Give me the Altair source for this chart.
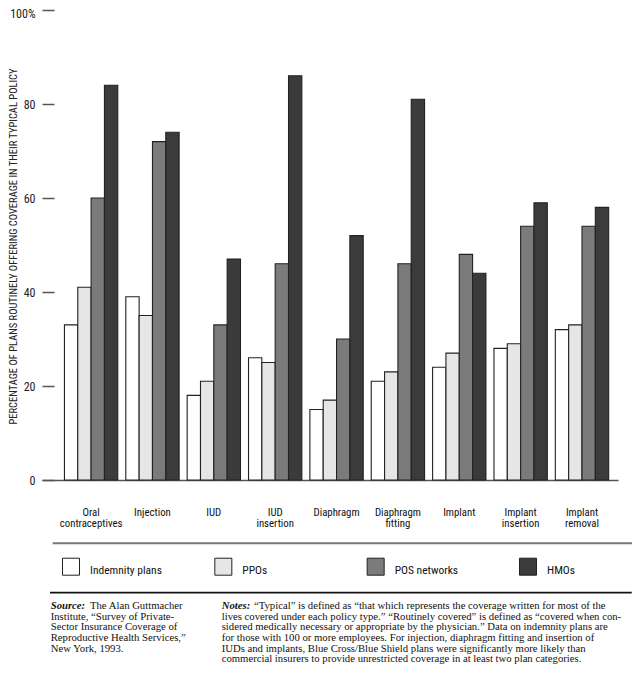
import altair as alt
import pandas as pd

SANS = "Roboto Condensed, Liberation Sans Narrow, Roboto, sans-serif"
SERIF = "Liberation Serif, serif"

methods = ["Oral\ncontraceptives", "Injection", "IUD", "IUD\ninsertion", "Diaphragm",
           "Diaphragm\nfitting", "Implant", "Implant\ninsertion", "Implant\nremoval"]
plans = ["Indemnity plans", "PPOs", "POS networks", "HMOs"]
indemnity = [33, 39, 18, 26, 15, 21, 24, 28, 32]
ppos = [41, 35, 21, 25, 17, 23, 27, 29, 33]
pos_networks = [60, 72, 33, 46, 30, 46, 48, 54, 54]
hmos = [84, 74, 47, 86, 52, 81, 44, 59, 58]
colors = ["#ffffff", "#e6e6e6", "#7b7b7b", "#3b3b3b"]
y_ticks = [0, 20, 40, 60, 80, 100]
y_title = "PERCENTAGE OF PLANS ROUTINELY OFFERING COVERAGE IN THEIR TYPICAL POLICY"

source_head = "Source:"
source_first = "The Alan Guttmacher"
source_rest = ["Institute, \u201cSurvey of Private-",
               "Sector Insurance Coverage of",
               "Reproductive Health Services,\u201d",
               "New York, 1993."]
notes_head = "Notes:"
notes_first = "\u201cTypical\u201d is defined as \u201cthat which represents the coverage written for most of the"
notes_rest = ["lives covered under each policy type.\u201d \u201cRoutinely covered\u201d is defined as \u201ccovered when con-",
              "sidered medically necessary or appropriate by the physician.\u201d Data on indemnity plans are",
              "for those with 100 or more employees. For injection, diaphragm fitting and insertion of",
              "IUDs and implants, Blue Cross/Blue Shield plans were significantly more likely than",
              "commercial insurers to provide unrestricted coverage in at least two plan categories."]

rows = []
for p, vals in zip(plans, [indemnity, ppos, pos_networks, hmos]):
    for m, v in zip(methods, vals):
        rows.append({"method": m, "plan": p, "value": v})
df = pd.DataFrame(rows)
leg_df = pd.DataFrame({"plan": plans})
one = pd.DataFrame({"k": [0]})

color_enc = alt.Color("plan:N", sort=plans, scale=alt.Scale(domain=plans, range=colors), legend=None)

bars = alt.Chart(df).mark_bar(stroke="#222222", strokeWidth=1.1).encode(
    x=alt.X("method:N", sort=methods,
            scale=alt.Scale(paddingInner=0.131, paddingOuter=0.259, align=0.706),
            axis=alt.Axis(title=None, labelAngle=0, labelExpr="split(datum.label, '\\n')",
                          ticks=False, domainColor="#555555", domainWidth=1.5,
                          labelPadding=26, labelFont=SANS, labelFontSize=10.8,
                          labelColor="#111111", labelLineHeight=11.5, labelBaseline="top",
                          labelOverlap=False)),
    xOffset=alt.XOffset("plan:N", sort=plans, scale=alt.Scale(paddingInner=0, paddingOuter=0)),
    y=alt.Y("value:Q", scale=alt.Scale(domain=[0, 100], nice=False),
            axis=alt.Axis(values=y_ticks, labelExpr="datum.value == 100 ? '100%' : datum.label",
                          grid=False, domain=False, tickSize=12, tickColor="#555555",
                          tickWidth=1.5, offset=-12, labelPadding=7, labelFont=SANS,
                          labelFontSize=12, labelColor="#222222", labelLineHeight=8,
                          labelBaseline={"condition": {"test": "datum.value === 100", "value": "line-top"},
                                         "value": "middle"},
                          title=y_title, titleFont=SANS, titleFontSize=10.5, titleFontWeight="normal",
                          titleColor="#222222", titleX=-38, titleY=236, titleAngle=270,
                          titleBaseline="alphabetic")),
    color=color_enc,
)

leg_x = alt.X("plan:N", sort=plans,
              scale=alt.Scale(type="point", domain=plans, range=[29, 486], padding=0),
              axis=None)
leg_sq = alt.Chart(leg_df).mark_square(size=289, filled=True, opacity=1, stroke="#222222",
                                       strokeWidth=1).encode(
    x=leg_x, y=alt.value(556.7), color=color_enc)
leg_txt = alt.Chart(leg_df).mark_text(align="left", baseline="alphabetic", dx=19, font=SANS,
                                      fontSize=11.5, color="#111111").encode(
    x=leg_x, y=alt.value(564), text="plan:N")

sep1 = alt.Chart(one).mark_rule(color="#777777", strokeWidth=2).encode(
    x=alt.value(10.7), x2=alt.value(590), y=alt.value(533.3))
sep2 = alt.Chart(one).mark_rule(color="#111111", strokeWidth=1.8).encode(
    x=alt.value(8), x2=alt.value(589.7), y=alt.value(582.7))

FS = 10.7
LH = 10.7
Y0 = 599
src_h = alt.Chart(one).mark_text(text=source_head, align="left", baseline="alphabetic", font=SERIF,
                                 fontSize=FS, fontStyle="italic", fontWeight="bold",
                                 color="#111111").encode(x=alt.value(8.7), y=alt.value(Y0))
src_1 = alt.Chart(one).mark_text(text=source_first, align="left", baseline="alphabetic", font=SERIF,
                                 fontSize=FS, color="#111111").encode(x=alt.value(48), y=alt.value(Y0))
src_r = alt.Chart(one).mark_text(text=source_rest, align="left", baseline="alphabetic", font=SERIF,
                                 fontSize=FS, lineHeight=LH, color="#111111").encode(
    x=alt.value(8.7), y=alt.value(Y0 + LH))
nt_h = alt.Chart(one).mark_text(text=notes_head, align="left", baseline="alphabetic", font=SERIF,
                                fontSize=FS, fontStyle="italic", fontWeight="bold",
                                color="#111111").encode(x=alt.value(179.7), y=alt.value(Y0))
nt_1 = alt.Chart(one).mark_text(text=notes_first, align="left", baseline="alphabetic", font=SERIF,
                                fontSize=FS, color="#111111").encode(x=alt.value(212), y=alt.value(Y0))
nt_r = alt.Chart(one).mark_text(text=notes_rest, align="left", baseline="alphabetic", font=SERIF,
                                fontSize=FS, lineHeight=LH, color="#111111").encode(
    x=alt.value(179.7), y=alt.value(Y0 + LH))

chart = alt.layer(bars, leg_sq, leg_txt, sep1, sep2, src_h, src_1, src_r, nt_h, nt_1, nt_r).resolve_scale(
    x="independent"
).properties(
    width=576, height=470,
    autosize=alt.AutoSizeParams(type="none"),
    padding={"left": 34, "top": 2, "right": 14, "bottom": 186},
).configure_view(stroke=None)

chart.save("out.html", embed_options={"renderer": "svg", "actions": False})
